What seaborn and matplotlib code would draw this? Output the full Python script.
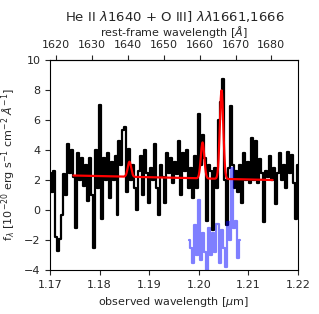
import numpy as np
import pandas as pd
import matplotlib
matplotlib.use("Agg")
import matplotlib.pyplot as plt
import seaborn as sns

# redshift factor (1+z)
one_plus_z = 7.23

# observed spectrum, pixel grid 1.17 - 1.22 um
wave_start, wave_end = 1.17, 1.22
flux = [2.5, 1.2, 2.6, -1.8, -2.7, -1.9, -0.3, 2.4, 1.0, 4.4,
        2.5, 4.0, 2.2, -1.2, 3.8, 2.0, 3.5, 1.6, 3.0, 0.6,
        3.5, 1.0, -2.5, 4.0, 1.5, 7.0, -0.6, 3.5, 2.0, 3.8,
        0.8, 3.2, 2.0, 3.6, -0.3, 4.6, 3.0, 5.3, 5.5, 1.2,
        4.1, 2.0, 3.0, 1.5, 0.0, 2.6, 3.6, 1.0, 4.0, 2.5,
        0.5, 2.8, 2.0, 4.4, 1.5, -0.3, 3.0, 2.2, 0.5, 3.8,
        2.5, 3.5, 1.8, 3.2, 2.4, 4.6, 1.0, 3.8, 2.6, 4.0,
        1.5, 2.8, 0.8, 3.6, 1.5, 6.4, 3.0, 5.0, 3.5, -0.7,
        3.0, 2.6, -1.3, 2.8, 1.5, 6.0, 7.2, 8.7, 2.0, -1.0,
        2.8, 6.9, 3.0, 1.5, 2.6, 1.2, 3.0, 0.5, 3.8, 2.0,
        3.2, 1.8, 4.8, 2.0, 4.6, 1.8, 3.4, 2.5, -0.8, 2.6,
        2.2, 3.6, 2.0, 2.8, 0.4, 2.5, 3.8, 2.0, 3.0, 1.5,
        3.9, 2.5, 3.7, 1.8, -0.6, 3.0]

# residual / sky region (blue)
blue_start, blue_end = 1.1980, 1.2083
blue_flux = [-2.0, -2.5, -3.5, -1.0, -3.0, 0.7, -3.3, -1.5, -2.8, -4.2,
             -1.2, -3.0, -1.5, -2.8, -0.9, -3.5, -1.3, -2.5, -3.8, -0.8,
             -2.0, 2.8, -1.2, -0.7, -3.2, -2.0]

# gaussian line model
model_range = (1.1747, 1.2149)
cont_left, cont_right = 2.3, 2.0
line_rest = [1640.4, 1660.8, 1666.1]
line_amp = [1.0, 2.4, 5.9]
line_sigma = 0.00035

wave = np.linspace(wave_start, wave_end, len(flux))
blue_wave = np.linspace(blue_start, blue_end, len(blue_flux))
spec = pd.DataFrame({"wave": wave, "flux": flux})
resid = pd.DataFrame({"wave": blue_wave, "flux": blue_flux})

mw = np.linspace(model_range[0], model_range[1], 800)
model = np.interp(mw, model_range, [cont_left, cont_right])
for lr, amp in zip(line_rest, line_amp):
    model = model + amp * np.exp(-0.5 * ((mw - lr * one_plus_z / 1e4) / line_sigma) ** 2)
mod = pd.DataFrame({"wave": mw, "flux": model})

sns.set_style("ticks")
plt.rcParams["font.size"] = 8

fig = plt.figure(figsize=(3.19, 3.14), dpi=100)
ax = fig.add_axes([0.157, 0.14, 0.777, 0.669])

sns.lineplot(data=spec, x="wave", y="flux", ax=ax, color="black", lw=1.6,
             drawstyle="steps-mid", estimator=None)
sns.lineplot(data=resid, x="wave", y="flux", ax=ax, color="blue", alpha=0.5, lw=1.6,
             drawstyle="steps-mid", estimator=None)
sns.lineplot(data=mod, x="wave", y="flux", ax=ax, color="red", lw=1.6, estimator=None)

ax.set_xlim(1.17, 1.22)
ax.set_ylim(-4, 10)
ax.set_xticks([1.17, 1.18, 1.19, 1.20, 1.21, 1.22])
ax.set_yticks(range(-4, 11, 2))
ax.tick_params(labelsize=8, direction="out", length=3.5)
ax.set_xlabel(r"observed wavelength [$\mu$m]", fontsize=8)
ax.set_ylabel(r"f$_\lambda$ [10$^{-20}$ erg s$^{-1}$ cm$^{-2}$ $\AA^{-1}$]", fontsize=8)
for s in ax.spines.values():
    s.set_color("black")
    s.set_linewidth(0.8)

sec = ax.secondary_xaxis("top", functions=(lambda x: x * 1e4 / one_plus_z,
                                           lambda x: x * one_plus_z / 1e4))
sec.set_xticks(range(1620, 1690, 10))
sec.tick_params(labelsize=8, length=3.5)
sec.set_xlabel(r"rest-frame wavelength [$\AA$]", fontsize=8, labelpad=3)

fig.text(0.547, 0.948, r"He II $\lambda$1640 + O III] $\lambda\lambda$1661,1666",
         ha="center", va="center", fontsize=9.5)

fig.savefig("out.png", dpi=100)
